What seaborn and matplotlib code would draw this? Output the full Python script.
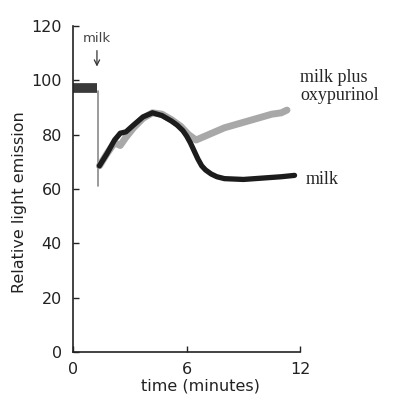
import numpy as np
import pandas as pd
import matplotlib
matplotlib.use("Agg")
import matplotlib.pyplot as plt
import seaborn as sns

# Базова лінія до додавання молока
base_time = [0.0, 0.3, 0.6, 0.9, 1.25]
base_value = [97, 97, 97, 97, 97]

# Момент додавання молока (вертикальний спад)
drop_time = [1.3, 1.3]
drop_value = [96, 61]

# Крива "milk"
milk_time = [1.4, 1.8, 2.2, 2.5, 2.8, 3.2, 3.7, 4.2, 4.7, 5.2, 5.5, 5.8, 6.0, 6.2,
             6.4, 6.6, 6.8, 7.0, 7.3, 7.6, 8.0, 9.0, 10.0, 11.0, 11.7]
milk_value = [68.5, 73, 78, 80.5, 81, 83.5, 86.5, 88, 87, 85, 83.5, 81.5, 79.5, 77,
              74, 71, 68.5, 67, 65.5, 64.5, 63.8, 63.5, 64, 64.5, 65]

# Крива "milk plus oxypurinol"
oxy_time = [1.4, 1.8, 2.2, 2.5, 2.8, 3.2, 3.7, 4.2, 4.7, 5.2, 5.7, 6.1, 6.5, 7.0,
            7.5, 8.0, 8.5, 9.0, 9.5, 10.0, 10.5, 11.0, 11.3]
oxy_value = [68.5, 73, 77, 76, 79, 82.5, 86, 88, 87.5, 85.5, 83, 80, 78, 79.5,
             81, 82.5, 83.5, 84.5, 85.5, 86.5, 87.5, 88, 89]

sns.set_style("ticks")
plt.rcParams['font.family'] = ['DejaVu Sans']

fig = plt.figure(figsize=(3.94, 3.97), dpi=100)
ax = fig.add_axes([0.185, 0.113, 0.577, 0.822])

sns.lineplot(x=base_time, y=base_value, color='#3a3a3a', linewidth=7, ax=ax,
             solid_capstyle='butt')
sns.lineplot(x=drop_time, y=drop_value, color='#8a8a8a', linewidth=1.2, ax=ax,
             estimator=None, sort=False)
sns.lineplot(x=oxy_time, y=oxy_value, color='#a8a8a8', linewidth=5, ax=ax)
sns.lineplot(x=milk_time, y=milk_value, color='#1c1c1c', linewidth=3.8, ax=ax)

ax.set_xlim(0, 12)
ax.set_ylim(0, 120)
ax.set_xticks([0, 6, 12])
ax.set_yticks([0, 20, 40, 60, 80, 100, 120])
ax.tick_params(direction='in', length=4, width=1, labelsize=11.5, colors='#222222')
ax.tick_params(axis='x', pad=7)
ax.tick_params(axis='y', pad=8)
for s in ['top', 'right']:
    ax.spines[s].set_visible(False)
for s in ['left', 'bottom']:
    ax.spines[s].set_linewidth(1.2)
    ax.spines[s].set_color('#222222')

ax.set_xlabel('time (minutes)', fontsize=11.5, color='#222222')
ax.set_ylabel('Relative light emission', fontsize=11.5, color='#222222')
ax.xaxis.set_label_coords(0.56, -0.08)
ax.yaxis.set_label_coords(-0.2, 0.46)

# Підписи кривих
serif = ['Liberation Serif', 'DejaVu Serif']
ax.text(12.0, 101, 'milk plus', family=serif, fontsize=13, va='center',
        ha='left', clip_on=False)
ax.text(12.0, 94.5, 'oxypurinol', family=serif, fontsize=13, va='center',
        ha='left', clip_on=False)
ax.text(12.3, 63.5, 'milk', family=serif, fontsize=13, va='center',
        ha='left', clip_on=False)

ax.annotate('milk', xy=(1.27, 104), xytext=(1.27, 115.5), ha='center', va='center',
            fontsize=9.5, color='#444444',
            arrowprops=dict(arrowstyle='->', color='#333333', lw=0.9))

fig.savefig('out.png', dpi=100)
